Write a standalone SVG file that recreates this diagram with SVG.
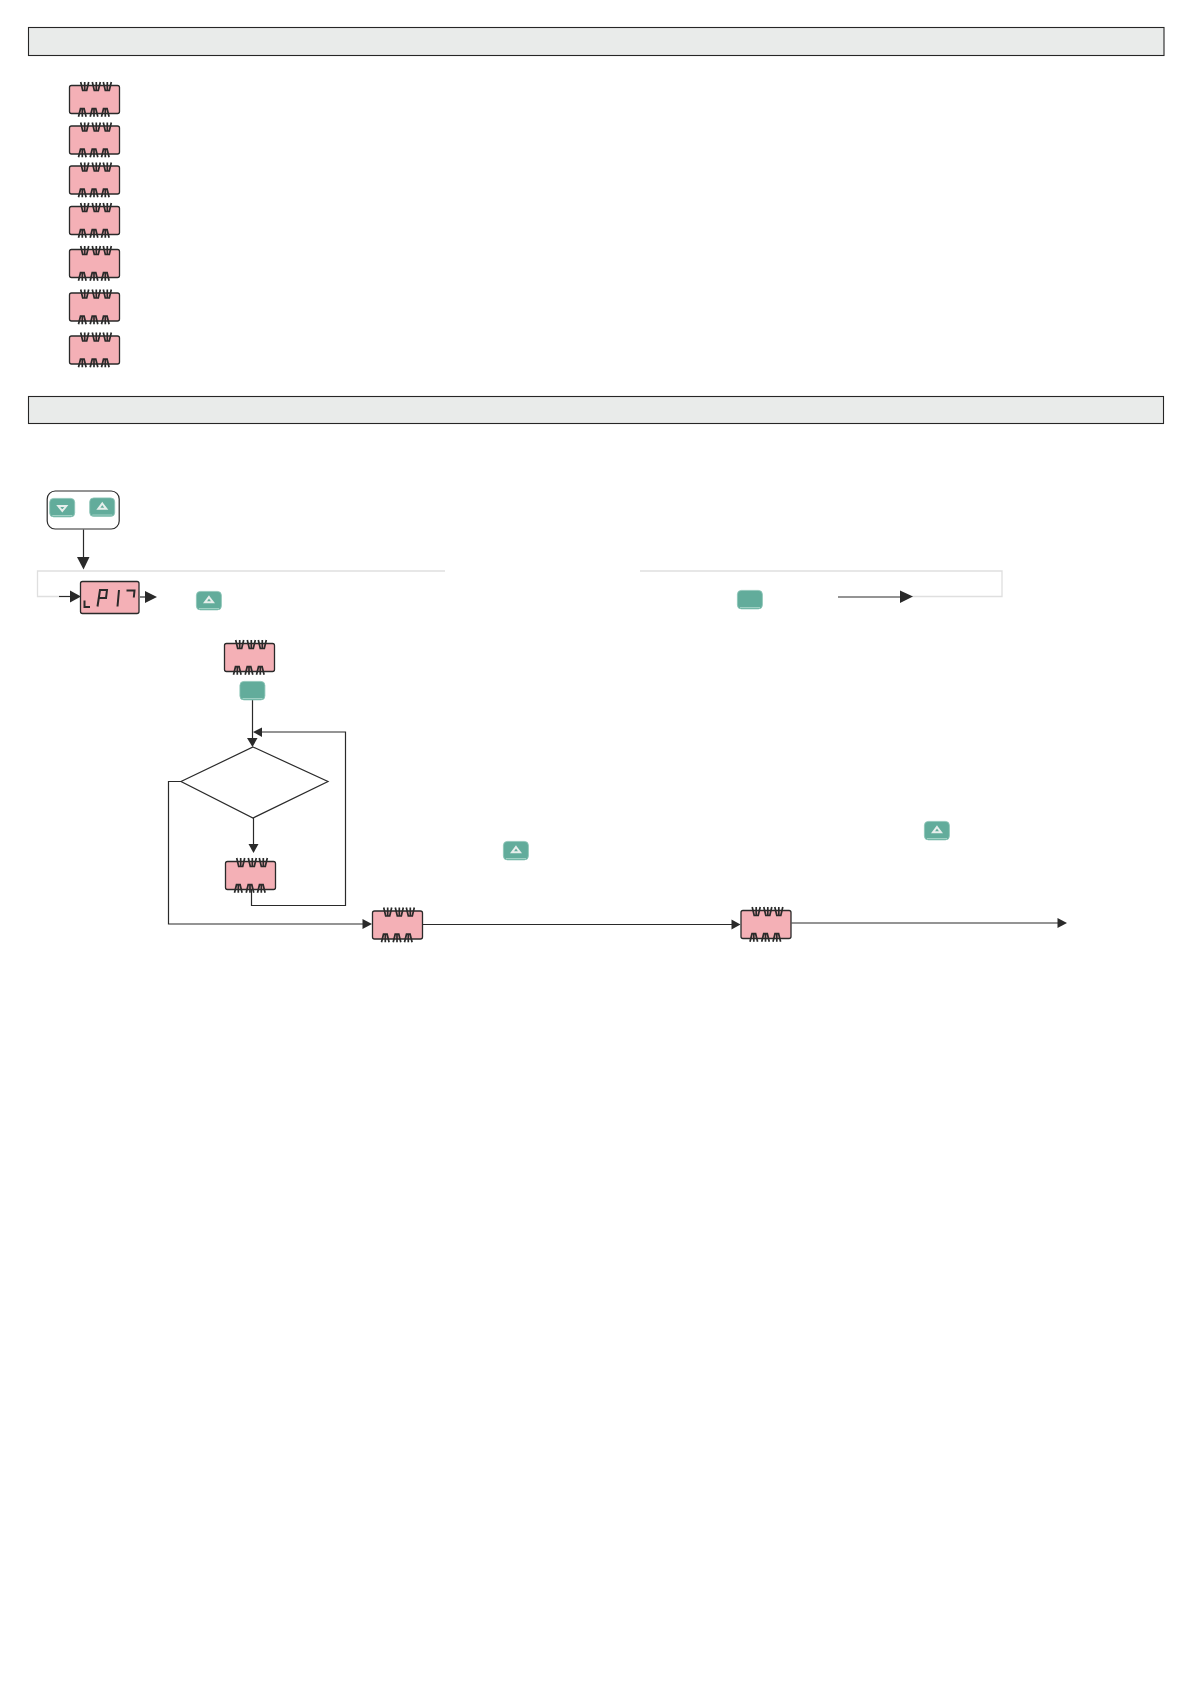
<svg xmlns="http://www.w3.org/2000/svg" xmlns:xlink="http://www.w3.org/1999/xlink" width="1192" height="1685" viewBox="0 0 1192 1685">
<style>
.hdr{fill:#e9ebea;stroke:#262626;stroke-width:1.1}
.disp{fill:#f4b0b6;stroke:#2a2a2a;stroke-width:1.3}
.seg{fill:none;stroke:#2a2a2a;stroke-width:1.7}
.btn{fill:#62ac9b;stroke:#8cc4b6;stroke-width:.8}
.btl{fill:none;stroke:#9fd0c3;stroke-width:1}
.tri{fill:none;stroke:#e6eeeb;stroke-width:2}
.ln{fill:none;stroke:#2a2a2a;stroke-width:1.2}
.lt{fill:none;stroke:#dfdfdf;stroke-width:1.3}
.ah{fill:#2a2a2a;stroke:none}
</style>
<defs>
<g id="d">
<rect class="disp" x=".5" y=".5" width="50" height="28" rx="2"/>
<path class="seg" d="M11.700 -3L13.700 5.500H17.700L19.700 -3M15.700 -3V5.500M23.300 -3L25.300 5.500H29.300L31.300 -3M27.300 -3V5.500M34.300 -3L36.300 5.500H40.300L42.300 -3M38.300 -3V5.500"/>
<path class="seg" d="M9.500 31.700L11.500 23.700H15.100L17.100 31.700M13.300 31.700V23.700M21.200 31.700L23.200 23.700H26.800L28.800 31.700M25 31.700V23.700M32.500 31.700L34.500 23.700H38.100L40.100 31.700M36.300 31.700V23.700"/>
</g>
<g id="bb"><rect class="btn" x=".4" y=".4" width="25" height="18.500" rx="4"/><path class="btl" d="M3 17.500H23"/></g>
<g id="bup"><use href="#bb"/><path class="tri" d="M13 6L17 11.300H9Z"/></g>
<g id="bdn"><use href="#bb"/><path class="tri" d="M13 13L17 8H9Z"/></g>
</defs>

<g id="header-1"><rect class="hdr" x="28.500" y="27.500" width="1135.500" height="28"/></g>
<g id="header-2"><rect class="hdr" x="28.500" y="396.500" width="1135" height="27"/></g>

<g id="display-list">
<use id="display-1" href="#d" x="69" y="85"/>
<use id="display-2" href="#d" x="69" y="125.500"/>
<use id="display-3" href="#d" x="69" y="165.500"/>
<use id="display-4" href="#d" x="69" y="206"/>
<use id="display-5" href="#d" x="69" y="249"/>
<use id="display-6" href="#d" x="69" y="292.500"/>
<use id="display-7" href="#d" x="69" y="335.500"/>
</g>

<g id="connectors">
<path class="lt" d="M445 571H37.500V596.500H59M640 571H1002V596.500H912"/>
<path class="ln" d="M83.500 529.500V558"/><path class="ah" d="M77 557H89.500L83.500 569.500Z"/>
<path class="ln" d="M59 596.500H72"/><path class="ah" d="M70 590.500L81 596.500L70 602.500Z"/>
<path class="ln" d="M140 597H146"/><path class="ah" d="M145 591L157 597L145 603Z"/>
<path class="ln" d="M838 597H902"/><path class="ah" d="M900 590.500L913 596.500L900 603Z"/>
<path class="ln" d="M252.500 700V739"/><path class="ah" d="M247 738H257.500L252.500 747Z"/>
<path class="ln" d="M261 732H345.500V905.500H251.500V889"/><path class="ah" d="M262 727.500V737L253 732Z"/>
<path class="ln" d="M253.500 818V845"/><path class="ah" d="M248.500 844H258.500L253.500 853Z"/>
<path class="ln" d="M181 781.500H168.500V924H363"/><path class="ah" d="M362.500 919V929L372 924Z"/>
<path class="ln" d="M422.500 924.500H733"/><path class="ah" d="M731.500 919.500V929.500L740.500 924.500Z"/>
<path class="ln" d="M791.500 923H1059"/><path class="ah" d="M1057.500 918V928L1067 923Z"/>
</g>

<g id="key-group">
<rect x="47.200" y="491" width="72" height="38" rx="8" fill="#fff" stroke="#2a2a2a" stroke-width="1.200"/>
<use href="#bdn" x="49.300" y="498"/>
<use href="#bup" x="89.300" y="497.500"/>
</g>

<g id="display-lp17">
<rect class="disp" x="80.500" y="581.500" width="58.500" height="32" rx="2"/>
<path fill="none" stroke="#2a2a2a" stroke-width="2" d="M84.500 600.500V607H90M97.500 606.500L100 590H107L106 598H98.700M119 590L117.500 606.500M126.500 590.500H134.500L133.800 597.500"/>
</g>
<g id="btn-up-1"><use href="#bup" x="196" y="591"/></g>
<g id="btn-key-1"><use href="#bb" x="737" y="590"/></g>

<g id="display-a"><use href="#d" x="224" y="643"/></g>
<g id="btn-key-2"><use href="#bb" x="239.500" y="681"/></g>
<g id="decision"><path fill="#fff" stroke="#2a2a2a" stroke-width="1.200" d="M253 747L328 781.500L253 818L181 781.500Z"/></g>
<g id="display-b"><use href="#d" x="225" y="861"/></g>
<g id="display-c"><use href="#d" x="372" y="910.500"/></g>
<g id="display-d"><use href="#d" x="740.500" y="910"/></g>
<g id="btn-up-2"><use href="#bup" x="924" y="821"/></g>
<g id="btn-up-3"><use href="#bup" x="503" y="841"/></g>
</svg>
